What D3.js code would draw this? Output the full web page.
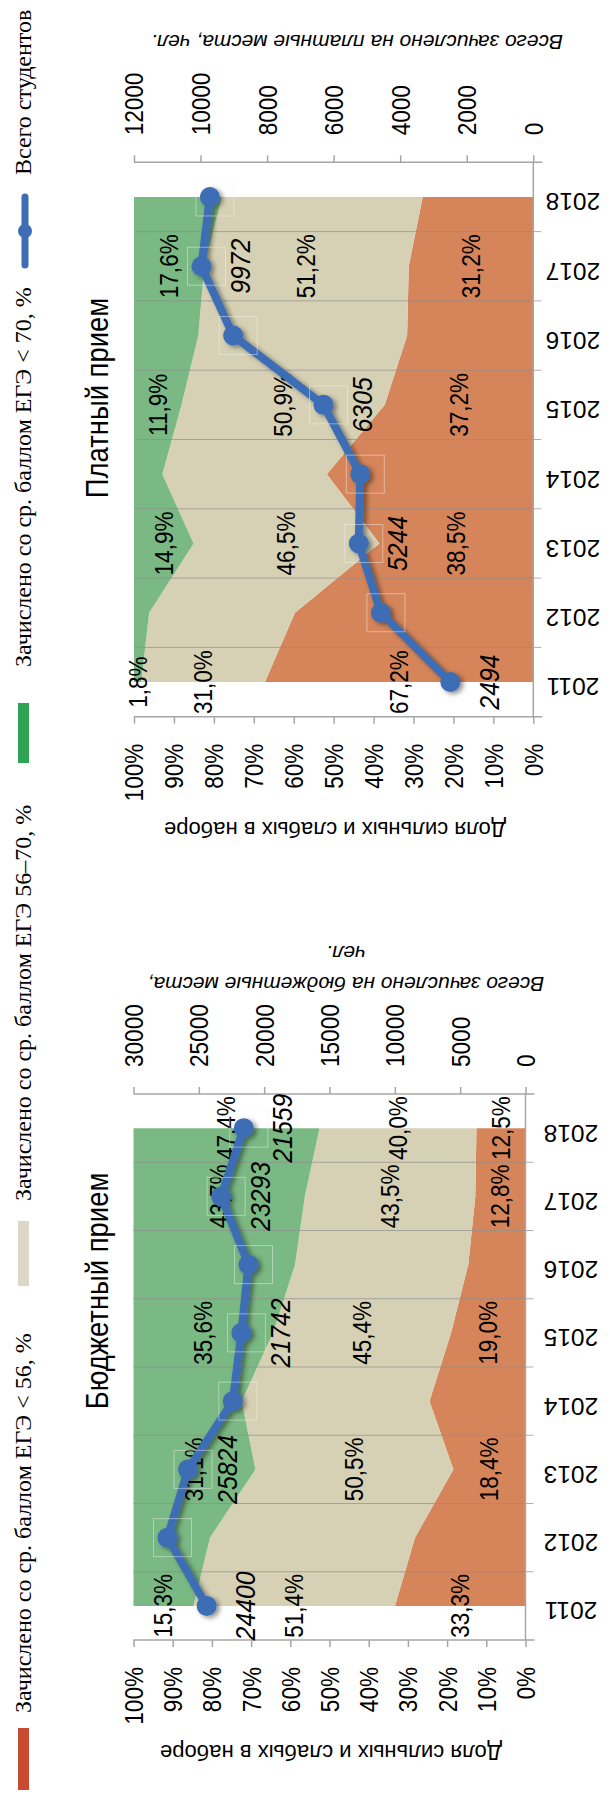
<!DOCTYPE html>
<html><head><meta charset="utf-8">
<script src="https://cdnjs.cloudflare.com/ajax/libs/d3/7.8.5/d3.min.js"></script>
<style>body{margin:0;background:#fff} svg{display:block}</style>
</head><body><svg id="c" width="610" height="1796"></svg>
<script>
// ---------- DATA ----------
const years = ["2011","2012","2013","2014","2015","2016","2017","2018"];
// Бюджетный прием, % of intake
const budgetLow  = [33.3, 28.2, 18.4, 24.5, 19.0, 14.6, 12.8, 12.5]; // < 56
const budgetMid  = [51.4, 52.3, 50.5, 47.9, 45.4, 44.2, 43.5, 40.0]; // 56–70
const budgetHigh = [15.3, 19.5, 31.1, 27.6, 35.6, 41.2, 43.7, 47.4]; // > 70
const budgetTotal = [24400, 27400, 25824, 22400, 21742, 21200, 23293, 21559];
const budgetLabelYears = ["2011","2013","2015","2017","2018"];
// Платный прием
const paidLow  = [67.2, 59.7, 38.5, 51.7, 37.2, 31.6, 31.2, 27.7];
const paidMid  = [31.0, 36.5, 46.5, 41.2, 50.9, 52.3, 51.2, 50.3];
const paidHigh = [1.8, 3.8, 14.9, 7.1, 11.9, 16.1, 17.6, 22.0];
const paidTotal = [2494, 4580, 5244, 5200, 6305, 9020, 9972, 9720];
const paidLabelYears = ["2011","2013","2015","2017"];

const pctTicks = [0,10,20,30,40,50,60,70,80,90,100];
const budgetSecTicks = [0,5000,10000,15000,20000,25000,30000];
const paidSecTicks = [0,2000,4000,6000,8000,10000,12000];

const legendLabels = ["Зачислено со ср. баллом ЕГЭ  < 56, %","Зачислено со ср. баллом ЕГЭ 56–70, %","Зачислено со ср. баллом ЕГЭ  < 70, %","Всего студентов"];

// ---------- STYLE ----------
const colArea = {low:"#d6855a", mid:"#d6d1b5", high:"#7ab884"};
const colLegend = ["#c84a31","#ddd8c6","#2fa253"];
const lineCol = "#3c6db5";
const FONT = "'Liberation Sans', Arial, sans-serif";
const SERIF = "'Liberation Serif', 'Times New Roman', serif";
const K = 0.885; // condensation of vertical text along its length

const svg = d3.select("#c");
svg.append("rect").attr("width",610).attr("height",1796).attr("fill","#fff");
const defs = svg.append("defs");
defs.append("filter").attr("id","sh").attr("x","-20%").attr("y","-20%").attr("width","140%").attr("height","140%")
  .append("feDropShadow").attr("dx",3).attr("dy",2).attr("stdDeviation",2.5)
  .attr("flood-color","#000").attr("flood-opacity",0.45);

const fmtPct = v => d3.format(".1f")(v).replace(".", ",") + "%";

function panel(cfg){
  const g = svg.append("g");
  const rows = years.map((yr,i)=>({year:yr, low:cfg.low[i], mid:cfg.mid[i], high:cfg.high[i], total:cfg.total[i]}));
  const stack = d3.stack().keys(["low","mid","high"]).offset(d3.stackOffsetExpand)(rows);
  const y = d3.scalePoint().domain(years).range([cfg.catBottom, cfg.catTop]).padding(0.5);
  const step = y.step();
  const x = d3.scaleLinear().domain([0,1]).range([cfg.xRight, cfg.xLeft]);
  const xs = d3.scaleLinear().domain([0,cfg.secMax]).range([cfg.xRight, cfg.xLeft]);

  // areas
  const area = d3.area().y(d=>y(d.data.year)).x0(d=>x(d[0])).x1(d=>x(d[1]));
  g.selectAll("path.area").data(stack).join("path").attr("class","area")
    .attr("d",area).attr("fill",s=>colArea[s.key]);

  // gridlines at band boundaries
  const bounds = d3.range(years.length+1).map(i=>cfg.catBottom - i*step);
  g.selectAll("line.grid").data(bounds.slice(1,-1)).join("line").attr("class","grid")
    .attr("x1",cfg.xLeft).attr("x2",cfg.xRight+8).attr("y1",d=>d).attr("y2",d=>d)
    .attr("stroke","#8f8f8f").attr("stroke-opacity",0.7).attr("stroke-width",1);

  // category axis (right)
  g.append("line").attr("x1",cfg.xRight).attr("x2",cfg.xRight).attr("y1",cfg.catTop).attr("y2",cfg.catBottom)
    .attr("stroke","#a6a6a6").attr("stroke-width",1.5);
  g.selectAll("text.yr").data(years).join("text").attr("class","yr")
    .attr("transform",d=>`translate(${cfg.yearX},${y(d)+5}) rotate(180)`)
    .attr("text-anchor","middle").attr("dy","0.35em")
    .style("font-family",FONT).style("font-size","24.5px").attr("fill","#000").text(d=>d);

  // percent axis (bottom of screen)
  const ax = d3.axisBottom(d3.scaleLinear().domain([0,100]).range([cfg.xRight,cfg.xLeft]))
    .tickValues(pctTicks).tickSize(7).tickFormat(d=>d+"%");
  const ga = g.append("g").attr("transform",`translate(0,${cfg.catBottom})`).call(ax);
  ga.select(".domain").attr("stroke","#a6a6a6").attr("stroke-width",1.5).attr("d",`M${cfg.xLeft},0H${cfg.xRight+9}`);
  ga.selectAll(".tick line").attr("stroke","#a6a6a6").attr("stroke-width",1.5);
  ga.selectAll(".tick text").attr("y",null).attr("dy","0.35em").attr("x",null)
    .attr("transform",`translate(0,27) rotate(-90) scale(${K},1)`).attr("text-anchor","end")
    .style("font-family",FONT).style("font-size","25.5px").attr("fill","#000");

  // secondary axis (top of screen)
  const as = d3.axisTop(xs).tickValues(cfg.secTicks).tickSize(7).tickFormat(d3.format("d"));
  const gs = g.append("g").attr("transform",`translate(0,${cfg.catTop})`).call(as);
  gs.select(".domain").attr("stroke","#a6a6a6").attr("stroke-width",1.5).attr("d",`M${cfg.xLeft},0H${cfg.xRight+9}`);
  gs.selectAll(".tick line").attr("stroke","#a6a6a6").attr("stroke-width",1.5);
  gs.selectAll(".tick text").attr("y",null).attr("dy","0.35em").attr("x",null)
    .attr("transform",`translate(0,-27) rotate(-90) scale(${K},1)`).attr("text-anchor","start")
    .style("font-family",FONT).style("font-size","25.5px").attr("fill","#000");

  // axis titles
  g.append("text").attr("transform",`translate(${cfg.pctTitleX},${cfg.catBottom+113}) rotate(180)`)
    .attr("text-anchor","middle").attr("dy","0.35em")
    .style("font-family",FONT).style("font-size","22px").text("Доля сильных и слабых в наборе");
  cfg.secTitle.forEach((t,i)=>{
    g.append("text").attr("transform",`translate(${cfg.secTitleX},${cfg.secTitleY - i*31}) rotate(180)`)
      .attr("text-anchor","middle").attr("dy","0.35em")
      .style("font-family",FONT).style("font-size","21px").style("font-style","italic").text(t);
  });
  // chart title
  g.append("text").attr("transform",`translate(97,${cfg.titleY}) rotate(-90) scale(0.9,1)`)
    .attr("text-anchor","middle").attr("dy","0.35em")
    .style("font-family",FONT).style("font-size","30.5px").text(cfg.title);

  // percent data labels
  const labRows = [];
  stack.forEach(s=>s.forEach(d=>{
    if(cfg.labelYears.includes(d.data.year)) labRows.push({year:d.data.year, xc:x((d[0]+d[1])/2), v:d.data[s.key]});
  }));
  g.selectAll("text.pl").data(labRows).join("text").attr("class","pl")
    .attr("transform",d=>`translate(${d.xc},${y(d.year)}) rotate(-90) scale(${K},1)`)
    .attr("text-anchor","middle").attr("dy","0.35em")
    .style("font-family",FONT).style("font-size","25.5px").attr("fill","#000").text(d=>fmtPct(d.v));

  // line with markers
  const gl = g.append("g").attr("filter","url(#sh)");
  const line = d3.line().x(d=>xs(d.total)).y(d=>y(d.year));
  gl.append("path").datum(rows).attr("d",line).attr("fill","none").attr("stroke",lineCol)
    .attr("stroke-width",8).attr("stroke-linejoin","round");
  gl.selectAll("circle").data(rows).join("circle").attr("cx",d=>xs(d.total)).attr("cy",d=>y(d.year))
    .attr("r",10).attr("fill",lineCol);
  g.selectAll("rect.box").data(rows.slice(1)).join("rect").attr("class","box")
    .attr("x",d=>xs(d.total)-14).attr("y",d=>y(d.year)-19).attr("width",38).attr("height",38)
    .attr("fill","none").attr("stroke","#f4f4f4").attr("stroke-opacity",0.45).attr("stroke-width",1);
  // total labels
  g.selectAll("text.tl").data(rows.filter(r=>cfg.labelYears.includes(r.year))).join("text").attr("class","tl")
    .attr("transform",d=>`translate(${xs(d.total)+39},${y(d.year)}) rotate(-90) scale(0.92,1)`)
    .attr("text-anchor","middle").attr("dy","0.35em")
    .style("font-family",FONT).style("font-size","27px").style("font-style","italic").attr("fill","#000").text(d=>d.total);
}

panel({low:paidLow, mid:paidMid, high:paidHigh, total:paidTotal, labelYears:paidLabelYears,
  catTop:162.3, catBottom:716.7, xLeft:134, xRight:533.3, secMax:12000, secTicks:paidSecTicks,
  yearX:573, pctTitleX:335, secTitle:["Всего зачислено на платные места, чел."], secTitleX:357, secTitleY:42,
  title:"Платный прием", titleY:398});
panel({low:budgetLow, mid:budgetMid, high:budgetHigh, total:budgetTotal, labelYears:budgetLabelYears,
  catTop:1094, catBottom:1640, xLeft:133.5, xRight:525.5, secMax:30000, secTicks:budgetSecTicks,
  yearX:571, pctTitleX:331, secTitle:["Всего зачислено на бюджетные места,","чел."], secTitleX:346, secTitleY:984,
  title:"Бюджетный прием", titleY:1291});

// ---------- LEGEND ----------
const lg = svg.append("g");
const swatches = [{y0:1728,y1:1790,c:colLegend[0]},{y0:1221,y1:1286,c:colLegend[1]},{y0:703,y1:763,c:colLegend[2]}];
lg.selectAll("rect").data(swatches).join("rect").attr("x",18).attr("width",11)
  .attr("y",d=>d.y0).attr("height",d=>d.y1-d.y0).attr("fill",d=>d.c);
lg.append("line").attr("x1",25).attr("x2",25).attr("y1",197).attr("y2",265).attr("stroke",lineCol)
  .attr("stroke-width",7).attr("stroke-linecap","round");
lg.append("circle").attr("cx",25).attr("cy",231).attr("r",7).attr("fill",lineCol);
const legStarts = [1713,1201,667,175];
lg.selectAll("text").data(legendLabels).join("text")
  .attr("transform",(d,i)=>`translate(23,${legStarts[i]}) rotate(-90)`)
  .attr("text-anchor","start").attr("dy","0.35em")
  .style("font-family",SERIF).style("font-size","24px").attr("fill","#000").text(d=>d);
</script></body></html>
